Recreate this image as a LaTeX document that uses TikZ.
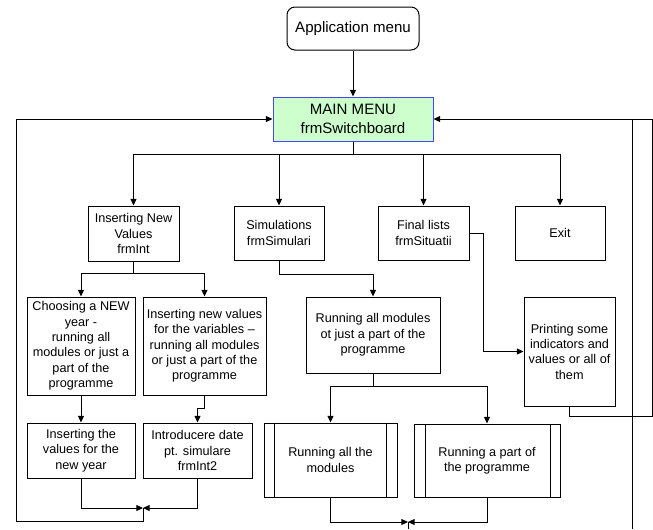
\documentclass[tikz,border=0pt]{standalone}
\usepackage{fontspec}
\setmainfont{Liberation Sans}
\usetikzlibrary{arrows.meta}
\definecolor{menugreen}{HTML}{CCFFCC}
\definecolor{menublue}{HTML}{4646FF}
\begin{document}
\begin{tikzpicture}[x=0.75pt,y=-0.75pt,line width=0.75pt,
  arr/.style={-{Triangle[length=5pt,width=4.5pt]}},
  sz/.style 2 args={minimum width=#1*0.75pt, minimum height=#2*0.75pt},
  box/.style={draw, rectangle, inner sep=0pt, align=center, anchor=center,
    font=\fontsize{9.5}{11.5}\selectfont},
  bigbox/.style={draw, rectangle, inner sep=0pt, align=center, anchor=center,
    font=\fontsize{11.3}{13.9}\selectfont},
  procline/.style={line width=0.75pt}]
\useasboundingbox (0,0) rectangle (653,529);

% nodes
\node[bigbox, rounded corners=6pt, sz={132}{43}] (app) at (353,28.5) {Application menu};
\node[bigbox, draw=menublue, fill=menugreen, sz={160}{44}] (main) at (353,119) {MAIN MENU\\frmSwitchboard};

\node[box, sz={91}{55}] (ins) at (133.5,233.5) {Inserting New\\Values\\frmInt};
\node[box, sz={90}{54}] (sim) at (279,233) {Simulations\\frmSimulari};
\node[box, sz={91}{54}] (fin) at (423.5,233) {Final lists\\frmSituatii};
\node[box, sz={90}{54}] (exit) at (560,233) {Exit};

\node[box, sz={108}{98}] (choose) at (81,346) {Choosing a NEW\\year -\\running all\\modules or just a\\part of the\\programme};
\node[box, sz={123}{98}] (insnew) at (204.5,346) {Inserting new values\\for the variables –\\running all modules\\or just a part of the\\programme};
\node[box, sz={134}{76}] (runsel) at (373,335) {Running all modules\\ot just a part of the\\programme};
\node[box, sz={91}{109}] (print) at (569.5,351.5) {Printing some\\indicators and\\values or all of\\them};

\node[box, sz={108}{55}] (insval) at (81,450.5) {Inserting the\\values for the\\new year};
\node[box, sz={109}{55}] (intro) at (197.5,450.5) {Introducere date\\pt. simulare\\frmInt2};
\node[box, sz={133}{74}] (runall) at (330.5,460) {Running all the\\modules};
\node[box, sz={146}{73}] (runpart) at (487,460.5) {Running a part of\\the programme};

% inner lines of the process boxes
\draw[procline] ([xshift=8.25pt]runall.north west) -- ([xshift=8.25pt]runall.south west);
\draw[procline] ([xshift=-8.25pt]runall.north east) -- ([xshift=-8.25pt]runall.south east);
\draw[procline] ([xshift=9pt]runpart.north west) -- ([xshift=9pt]runpart.south west);
\draw[procline] ([xshift=-7.5pt]runpart.north east) -- ([xshift=-7.5pt]runpart.south east);

% helper coordinates
\coordinate (b1) at (0,154);
\coordinate (b2) at (0,273);
\coordinate (b3) at (0,274);
\coordinate (b4) at (0,386);
\coordinate (j1) at (0,408);
\coordinate (f1) at (483,0);
\coordinate (m1) at (143,508);
\coordinate (l1) at (16,521);
\coordinate (m2) at (408,522);
\coordinate (e1) at (408,529);
\coordinate (r1) at (652,416);
\coordinate (r2) at (632,119);
\coordinate (e2) at (632,529);

% connectors
\draw[arr] (app) -- (main);
\draw[arr] (main.south) -- (main.south |- b1) -| (ins.north);
\draw[arr] (main.south) -- (main.south |- b1) -| (sim.north);
\draw[arr] (main.south) -- (main.south |- b1) -| (fin.north);
\draw[arr] (main.south) -- (main.south |- b1) -| (exit.north);

\draw[arr] (ins.south) -- (ins.south |- b2) -| (choose.north);
\draw[arr] (ins.south) -- (ins.south |- b2) -| (insnew.north);
\draw[arr] (sim.south) -- (sim.south |- b3) -| (runsel.north);
\draw[arr] (fin.east) -- (fin.east -| f1) |- (print.west);

\draw[arr] (choose) -- (insval);
\draw[arr] (insnew.south) -- (insnew.south |- j1) -| (intro.north);

\draw[arr] (runsel.south) -- (runsel.south |- b4) -| (runall.north);
\draw[arr] (runsel.south) -- (runsel.south |- b4) -| (runpart.north);

\draw[arr] (insval.south) |- (m1);
\draw[arr] (intro.south) |- (m1);
\draw[arr] (m1) |- (l1) |- (main.west);

\draw[arr] (runall.south) |- (m2);
\draw[arr] (runpart.south) |- (m2);
\draw (m2) -- (e1);

\draw[arr] (print.south) |- (r1) |- (main.east);
\draw (r2) -- (e2);
\end{tikzpicture}
\end{document}
